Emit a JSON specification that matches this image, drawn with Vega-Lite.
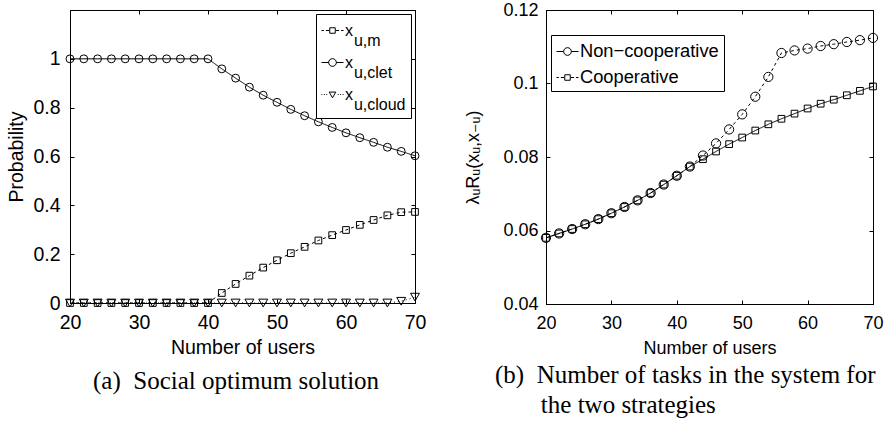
{
  "$schema": "https://vega.github.io/schema/vega-lite/v6.json",
  "background": "white",
  "padding": {"left": 6, "top": 0, "right": 0, "bottom": 0},
  "spacing": 37,
  "datasets": {
    "left": [
      {"n":20,"s":"x_u,m","p":0},{"n":22,"s":"x_u,m","p":0},{"n":24,"s":"x_u,m","p":0},{"n":26,"s":"x_u,m","p":0},{"n":28,"s":"x_u,m","p":0},{"n":30,"s":"x_u,m","p":0},{"n":32,"s":"x_u,m","p":0},{"n":34,"s":"x_u,m","p":0},{"n":36,"s":"x_u,m","p":0},{"n":38,"s":"x_u,m","p":0},{"n":40,"s":"x_u,m","p":0},{"n":42,"s":"x_u,m","p":0.041},{"n":44,"s":"x_u,m","p":0.078},{"n":46,"s":"x_u,m","p":0.112},{"n":48,"s":"x_u,m","p":0.145},{"n":50,"s":"x_u,m","p":0.175},{"n":52,"s":"x_u,m","p":0.204},{"n":54,"s":"x_u,m","p":0.23},{"n":56,"s":"x_u,m","p":0.256},{"n":58,"s":"x_u,m","p":0.278},{"n":60,"s":"x_u,m","p":0.299},{"n":62,"s":"x_u,m","p":0.32},{"n":64,"s":"x_u,m","p":0.34},{"n":66,"s":"x_u,m","p":0.359},{"n":68,"s":"x_u,m","p":0.372},{"n":70,"s":"x_u,m","p":0.373},
      {"n":20,"s":"x_u,clet","p":1},{"n":22,"s":"x_u,clet","p":1},{"n":24,"s":"x_u,clet","p":1},{"n":26,"s":"x_u,clet","p":1},{"n":28,"s":"x_u,clet","p":1},{"n":30,"s":"x_u,clet","p":1},{"n":32,"s":"x_u,clet","p":1},{"n":34,"s":"x_u,clet","p":1},{"n":36,"s":"x_u,clet","p":1},{"n":38,"s":"x_u,clet","p":1},{"n":40,"s":"x_u,clet","p":1},{"n":42,"s":"x_u,clet","p":0.959},{"n":44,"s":"x_u,clet","p":0.921},{"n":46,"s":"x_u,clet","p":0.884},{"n":48,"s":"x_u,clet","p":0.851},{"n":50,"s":"x_u,clet","p":0.822},{"n":52,"s":"x_u,clet","p":0.793},{"n":54,"s":"x_u,clet","p":0.767},{"n":56,"s":"x_u,clet","p":0.742},{"n":58,"s":"x_u,clet","p":0.719},{"n":60,"s":"x_u,clet","p":0.697},{"n":62,"s":"x_u,clet","p":0.677},{"n":64,"s":"x_u,clet","p":0.658},{"n":66,"s":"x_u,clet","p":0.638},{"n":68,"s":"x_u,clet","p":0.621},{"n":70,"s":"x_u,clet","p":0.603},
      {"n":20,"s":"x_u,cloud","p":0},{"n":22,"s":"x_u,cloud","p":0},{"n":24,"s":"x_u,cloud","p":0},{"n":26,"s":"x_u,cloud","p":0},{"n":28,"s":"x_u,cloud","p":0},{"n":30,"s":"x_u,cloud","p":0},{"n":32,"s":"x_u,cloud","p":0},{"n":34,"s":"x_u,cloud","p":0},{"n":36,"s":"x_u,cloud","p":0},{"n":38,"s":"x_u,cloud","p":0},{"n":40,"s":"x_u,cloud","p":0},{"n":42,"s":"x_u,cloud","p":0},{"n":44,"s":"x_u,cloud","p":0},{"n":46,"s":"x_u,cloud","p":0},{"n":48,"s":"x_u,cloud","p":0},{"n":50,"s":"x_u,cloud","p":0},{"n":52,"s":"x_u,cloud","p":0},{"n":54,"s":"x_u,cloud","p":0},{"n":56,"s":"x_u,cloud","p":0},{"n":58,"s":"x_u,cloud","p":0},{"n":60,"s":"x_u,cloud","p":0},{"n":62,"s":"x_u,cloud","p":0},{"n":64,"s":"x_u,cloud","p":0},{"n":66,"s":"x_u,cloud","p":0},{"n":68,"s":"x_u,cloud","p":0.007},{"n":70,"s":"x_u,cloud","p":0.024}
    ],
    "right": [
      {"n":20,"s":"Non−cooperative","v":0.058},{"n":22,"s":"Non−cooperative","v":0.0592},{"n":24,"s":"Non−cooperative","v":0.0604},{"n":26,"s":"Non−cooperative","v":0.0617},{"n":28,"s":"Non−cooperative","v":0.0631},{"n":30,"s":"Non−cooperative","v":0.0647},{"n":32,"s":"Non−cooperative","v":0.0664},{"n":34,"s":"Non−cooperative","v":0.0682},{"n":36,"s":"Non−cooperative","v":0.0702},{"n":38,"s":"Non−cooperative","v":0.0725},{"n":40,"s":"Non−cooperative","v":0.0749},{"n":42,"s":"Non−cooperative","v":0.0774},{"n":44,"s":"Non−cooperative","v":0.0804},{"n":46,"s":"Non−cooperative","v":0.0837},{"n":48,"s":"Non−cooperative","v":0.0875},{"n":50,"s":"Non−cooperative","v":0.0916},{"n":52,"s":"Non−cooperative","v":0.0964},{"n":54,"s":"Non−cooperative","v":0.1018},{"n":56,"s":"Non−cooperative","v":0.1083},{"n":58,"s":"Non−cooperative","v":0.109},{"n":60,"s":"Non−cooperative","v":0.1095},{"n":62,"s":"Non−cooperative","v":0.1102},{"n":64,"s":"Non−cooperative","v":0.1107},{"n":66,"s":"Non−cooperative","v":0.1113},{"n":68,"s":"Non−cooperative","v":0.1118},{"n":70,"s":"Non−cooperative","v":0.1124},
      {"n":20,"s":"Cooperative","v":0.058},{"n":22,"s":"Cooperative","v":0.0592},{"n":24,"s":"Cooperative","v":0.0604},{"n":26,"s":"Cooperative","v":0.0617},{"n":28,"s":"Cooperative","v":0.0631},{"n":30,"s":"Cooperative","v":0.0647},{"n":32,"s":"Cooperative","v":0.0664},{"n":34,"s":"Cooperative","v":0.0682},{"n":36,"s":"Cooperative","v":0.0702},{"n":38,"s":"Cooperative","v":0.0725},{"n":40,"s":"Cooperative","v":0.0749},{"n":42,"s":"Cooperative","v":0.0774},{"n":44,"s":"Cooperative","v":0.0794},{"n":46,"s":"Cooperative","v":0.0815},{"n":48,"s":"Cooperative","v":0.0835},{"n":50,"s":"Cooperative","v":0.0853},{"n":52,"s":"Cooperative","v":0.0872},{"n":54,"s":"Cooperative","v":0.0889},{"n":56,"s":"Cooperative","v":0.0904},{"n":58,"s":"Cooperative","v":0.0918},{"n":60,"s":"Cooperative","v":0.0932},{"n":62,"s":"Cooperative","v":0.0945},{"n":64,"s":"Cooperative","v":0.0956},{"n":66,"s":"Cooperative","v":0.0968},{"n":68,"s":"Cooperative","v":0.098},{"n":70,"s":"Cooperative","v":0.0992}
    ]
  },
  "config": {
    "view": {"stroke": "black", "strokeWidth": 1},
    "axis": {"grid": false, "domainColor": "black", "tickColor": "black", "labelColor": "black", "titleColor": "black", "labelFont": "Liberation Sans", "titleFont": "Liberation Sans, DejaVu Sans", "titleFontWeight": "normal", "tickSize": -4, "domainWidth": 1, "tickWidth": 1, "labelFlush": false, "minExtent": 0},
    "legend": {"strokeColor": "black", "fillColor": "white", "symbolStrokeColor": "black", "symbolStrokeWidth": 1, "symbolFillColor": "transparent", "labelFont": "Liberation Sans", "labelColor": "black", "labelLimit": 400},
    "style": {"guide-label": {"lineHeight": 10}}
  },
  "hconcat": [
    {
      "width": 345,
      "height": 293,
      "data": {"name": "left"},
      "title": {"text": "(a)\u00a0 Social optimum solution", "orient": "bottom", "anchor": "start", "frame": "group", "dx": 23, "offset": 12, "font": "Liberation Serif", "fontSize": 25, "fontWeight": "normal", "color": "black"},
      "layer": [
        {
          "mark": {"type": "line", "color": "black", "strokeWidth": 1},
          "encoding": {
            "x": {"field": "n", "type": "quantitative", "scale": {"domain": [20, 70], "nice": false, "zero": false}, "axis": {"orient": "bottom", "values": [20, 30, 40, 50, 60, 70], "title": "Number of users", "labelFontSize": 19.5, "titleFontSize": 19.5, "labelPadding": 14, "titlePadding": 7}},
            "y": {"field": "p", "type": "quantitative", "scale": {"domain": [0, 1.2], "nice": false}, "axis": {"orient": "left", "values": [0, 0.2, 0.4, 0.6, 0.8, 1], "labelExpr": "format(datum.value, '.1~f')", "title": "Probability", "labelFontSize": 19.5, "titleFontSize": 19.5, "labelPadding": 14, "titlePadding": 6}},
            "strokeDash": {"field": "s", "type": "nominal", "scale": {"domain": ["x_u,m", "x_u,clet", "x_u,cloud"], "range": [[3, 3], [1, 0], [1, 3]]}, "legend": null}
          }
        },
        {
          "mark": {"type": "point", "filled": false, "color": "black", "strokeWidth": 1, "opacity": 1},
          "encoding": {
            "x": {"field": "n", "type": "quantitative", "scale": {"domain": [20, 70], "nice": false, "zero": false}, "axis": {"orient": "top", "values": [20, 30, 40, 50, 60, 70], "labels": false, "title": null}},
            "y": {"field": "p", "type": "quantitative", "scale": {"domain": [0, 1.2], "nice": false}, "axis": {"orient": "right", "values": [0, 0.2, 0.4, 0.6, 0.8, 1], "labels": false, "title": null}},
            "shape": {"field": "s", "type": "nominal", "scale": {"domain": ["x_u,m", "x_u,clet", "x_u,cloud"], "range": ["square", "circle", "triangle-down"]}, "legend": null},
            "size": {"field": "s", "type": "nominal", "scale": {"domain": ["x_u,m", "x_u,clet", "x_u,cloud"], "range": [45, 80, 55]}, "legend": null}
          }
        },
        {
          "transform": [{"filter": "false"}],
          "mark": {"type": "point", "filled": false, "color": "black", "opacity": 1},
          "encoding": {
            "shape": {"field": "s", "type": "nominal", "scale": {"domain": ["x_u,m", "x_u,clet", "x_u,cloud"], "range": ["M-1,0H-0.78M-0.6,0H-0.3M-0.25,-0.25H0.25V0.25H-0.25ZM0.3,0H0.6M0.78,0H1", "M-1,0H-0.35M0.35,0H1M-0.35,0A0.35 0.35 0 1 1 0.35,0A0.35 0.35 0 1 1 -0.35,0Z", "M-1,0H-0.92M-0.78,0H-0.7M-0.56,0H-0.48M-0.3,-0.22H0.3L0,0.3ZM0.48,0H0.56M0.7,0H0.78M0.92,0H1"]}, "legend": {"title": null, "orient": "top-right", "offset": 4, "padding": 5, "rowPadding": 2, "labelFontSize": 16, "labelOffset": 1, "symbolSize": 484, "labelExpr": "['x', '\u200b\u00a0\u00a0' + slice(datum.label, 2)]"}}
          }
        }
      ],
      "resolve": {"scale": {"shape": "independent", "size": "independent"}, "axis": {"x": "independent", "y": "independent"}}
    },
    {
      "width": 327,
      "height": 294,
      "data": {"name": "right"},
      "title": {"text": ["(b)\u00a0 Number of tasks in the system for", "\u200b\u00a0\u00a0\u00a0\u00a0\u00a0\u00a0\u00a0\u200athe two strategies"], "orient": "bottom", "anchor": "start", "frame": "group", "dx": -51, "offset": 6, "lineHeight": 30, "font": "Liberation Serif", "fontSize": 25, "fontWeight": "normal", "color": "black"},
      "layer": [
        {
          "mark": {"type": "line", "color": "black", "strokeWidth": 1},
          "encoding": {
            "x": {"field": "n", "type": "quantitative", "scale": {"domain": [20, 70], "nice": false, "zero": false}, "axis": {"orient": "bottom", "values": [20, 30, 40, 50, 60, 70], "title": "Number of users", "labelFontSize": 18, "titleFontSize": 18, "labelPadding": 14, "titlePadding": 7}},
            "y": {"field": "v", "type": "quantitative", "scale": {"domain": [0.04, 0.12], "nice": false, "zero": false}, "axis": {"orient": "left", "values": [0.04, 0.06, 0.08, 0.1, 0.12], "labelExpr": "format(datum.value, '.2~f')", "title": "λᵤRᵤ(xᵤ,x₋ᵤ)", "labelFontSize": 18, "titleFontSize": 18, "labelPadding": 12, "titlePadding": 20}},
            "strokeDash": {"field": "s", "type": "nominal", "scale": {"domain": ["Non−cooperative", "Cooperative"], "range": [[1, 0], [3, 3]]}, "legend": null}
          }
        },
        {
          "mark": {"type": "point", "filled": false, "color": "black", "strokeWidth": 1, "opacity": 1},
          "encoding": {
            "x": {"field": "n", "type": "quantitative", "scale": {"domain": [20, 70], "nice": false, "zero": false}, "axis": {"orient": "top", "values": [20, 30, 40, 50, 60, 70], "labels": false, "title": null}},
            "y": {"field": "v", "type": "quantitative", "scale": {"domain": [0.04, 0.12], "nice": false, "zero": false}, "axis": {"orient": "right", "values": [0.04, 0.06, 0.08, 0.1, 0.12], "labels": false, "title": null}},
            "shape": {"field": "s", "type": "nominal", "scale": {"domain": ["Non−cooperative", "Cooperative"], "range": ["circle", "square"]}, "legend": null},
            "size": {"field": "s", "type": "nominal", "scale": {"domain": ["Non−cooperative", "Cooperative"], "range": [85, 45]}, "legend": null}
          }
        },
        {
          "transform": [{"filter": "false"}],
          "mark": {"type": "point", "filled": false, "color": "black", "opacity": 1},
          "encoding": {
            "shape": {"field": "s", "type": "nominal", "scale": {"domain": ["Non−cooperative", "Cooperative"], "range": ["M-1,0H-0.35M0.35,0H1M-0.35,0A0.35 0.35 0 1 1 0.35,0A0.35 0.35 0 1 1 -0.35,0Z", "M-1,0H-0.78M-0.6,0H-0.3M-0.25,-0.25H0.25V0.25H-0.25ZM0.3,0H0.6M0.78,0H1"]}, "legend": {"title": null, "orient": "none", "legendX": 5, "legendY": 25, "padding": 5, "rowPadding": 6, "labelFontSize": 18.3, "labelOffset": 1, "symbolSize": 484}}
          }
        }
      ],
      "resolve": {"scale": {"shape": "independent", "size": "independent"}, "axis": {"x": "independent", "y": "independent"}}
    }
  ]
}
